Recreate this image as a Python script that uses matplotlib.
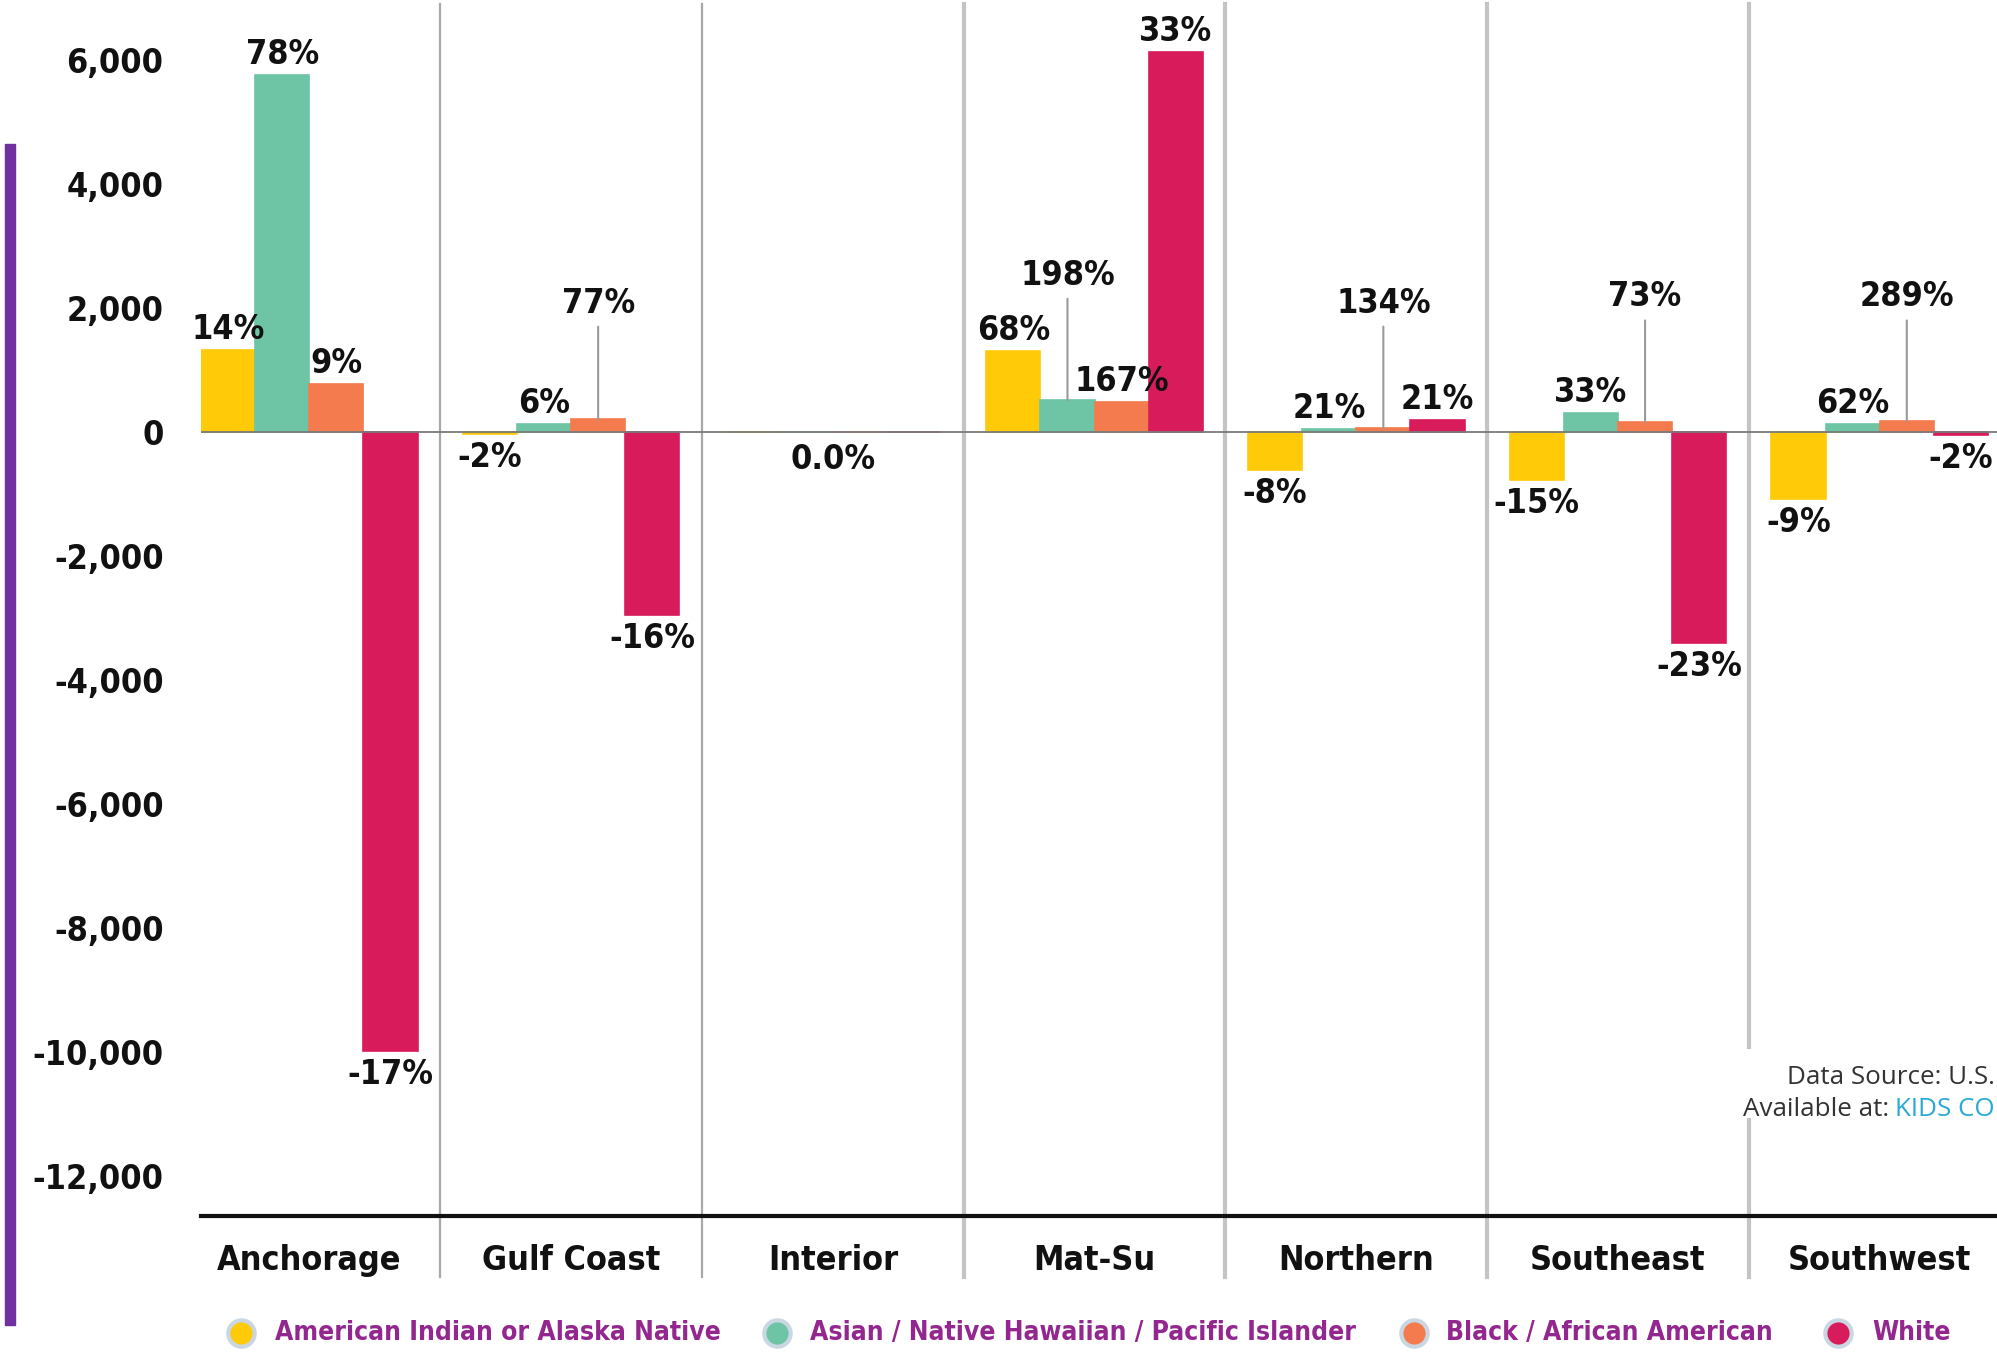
import matplotlib.pyplot as plt
from matplotlib.lines import Line2D
from matplotlib.patches import Rectangle
from matplotlib import font_manager as fm
import numpy as np

regions = ['Anchorage', 'Gulf Coast', 'Interior', 'Mat-Su', 'Northern', 'Southeast', 'Southwest']
series = ['American Indian or Alaska Native', 'Asian / Native Hawaiian / Pacific Islander',
          'Black / African American', 'White']
ai_an = [1320, -30, 0, 1305, -618, -768, -1074]
asian = [5755, 124, 0, 516, 55, 306, 134]
black = [769, 205, 0, 489, 60, 161, 177]
white = [-9980, -2950, 0, 6125, 189, -3400, -42]
pct_ai_an = ['14%', '-2%', '', '68%', '-8%', '-15%', '-9%']
pct_asian = ['78%', '6%', '', '198%', '21%', '33%', '62%']
pct_black = ['9%', '77%', '', '167%', '134%', '73%', '289%']
pct_white = ['-17%', '-16%', '', '33%', '21%', '-23%', '-2%']
interior_label = '0.0%'
yticks = [6000, 4000, 2000, 0, -2000, -4000, -6000, -8000, -10000, -12000]

colors = ['#ffca08', '#6ec5a5', '#f47b4d', '#d81c5b']
values = [ai_an, asian, black, white]
pcts = [pct_ai_an, pct_asian, pct_black, pct_white]
# labels that sit higher with a leader line: (series, region) -> label centre y
leaders = {(1, 3): 2530, (2, 1): 2080, (2, 4): 2080, (2, 5): 2180, (2, 6): 2180}

plt.rcParams['font.family'] = ['DejaVu Sans']
plt.rcParams['font.stretch'] = 'condensed'
plt.rcParams['font.weight'] = 'bold'
cond = 'Condensed' in fm.findfont(fm.FontProperties(family='DejaVu Sans', stretch='condensed',
                                                    weight='bold'))
fs = 24.5 if cond else 20
lfs = 19 if cond else 15

fig = plt.figure(figsize=(19.97, 13.54), dpi=100)
ax = fig.add_axes([0.1007, 0.102, 0.8993, 0.898])

x = np.arange(len(regions))
w = 0.2068
for i in range(4):
    xs = x + (i - 1.5) * w
    ax.bar(xs, values[i], w, color=colors[i], edgecolor=colors[i], linewidth=1.2, zorder=3)
    for j in range(len(regions)):
        lab = pcts[i][j]
        if not lab:
            continue
        v = values[i][j]
        if (i, j) in leaders:
            ax.annotate(lab, xy=(xs[j], v), xytext=(xs[j], leaders[(i, j)]),
                        ha='center', va='center', fontsize=fs, color='#111111',
                        arrowprops=dict(arrowstyle='-', color='#9a9a9a', lw=1.5,
                                        shrinkA=3, shrinkB=0), zorder=5)
        elif v >= 0:
            ax.annotate(lab, xy=(xs[j], v), xytext=(0, 3), textcoords='offset points',
                        ha='center', va='bottom', fontsize=fs, color='#111111', zorder=5)
        else:
            ax.annotate(lab, xy=(xs[j], v), xytext=(0, -5), textcoords='offset points',
                        ha='center', va='top', fontsize=fs, color='#111111', zorder=5)

ax.annotate(interior_label, xy=(2, 0), xytext=(0, -8), textcoords='offset points',
            ha='center', va='top', fontsize=fs, color='#111111')

ax.axhline(0, color='#7a7a7a', lw=1.3, zorder=4)

# region separators
for k in range(len(regions) - 1):
    if k < 2:
        c, lw = '#a8a8a8', 1.6
    else:
        c, lw = '#c4c4c4', 3
    if k == 5:
        segs = [(0.139, 0.997), (-0.05, 0.0785)]
    else:
        segs = [(-0.05, 0.997)]
    for y0, y1 in segs:
        ax.plot([k + 0.5, k + 0.5], [y0, y1], color=c, lw=lw,
                transform=ax.get_xaxis_transform(), clip_on=False, zorder=2)

ax.set_xlim(-0.4136, 6.448)
ax.set_ylim(-12640, 6970)
ax.set_xticks(x)
ax.set_xticklabels(regions, fontsize=fs, color='#111111')
ax.set_yticks(yticks)
ax.set_yticklabels([f'{t:,}' for t in yticks], fontsize=fs, color='#111111')
ax.tick_params(axis='x', length=0, pad=20)
ax.tick_params(axis='y', length=0, pad=27)
for s in ['top', 'right', 'left']:
    ax.spines[s].set_visible(False)
ax.spines['bottom'].set_color('#111111')
ax.spines['bottom'].set_linewidth(3)
ax.spines['bottom'].set_zorder(6)

# purple side bar
fig.add_artist(Rectangle((5 / 1997, 1 - 1325 / 1354), 10 / 1997, 1181 / 1354,
                         transform=fig.transFigure, color='#7030a0'))

# legend
leg_marker_x = [241, 777, 1414, 1838]
leg_text_x = [275, 810, 1446, 1872]
ly = 1 - 1333 / 1354
for i in range(4):
    fig.add_artist(Line2D([leg_marker_x[i] / 1997], [ly], marker='o', markersize=19,
                          markerfacecolor=colors[i], markeredgecolor='#c9d7e2',
                          markeredgewidth=3, transform=fig.transFigure))
    fig.text(leg_text_x[i] / 1997, ly, series[i], ha='left', va='center',
             fontsize=lfs, color='#93278f')

# source note
src = dict(fontsize=18.7, family=['Open Sans', 'DejaVu Sans'], stretch='normal',
           weight='normal', va='center')
fig.text(0.999, 1 - 1077 / 1354, 'Data Source: U.S.', ha='right', color='#333333', **src)
fig.text(0.999, 1 - 1110 / 1354, 'KIDS CO', ha='right', color='#29a9d6', **src)
fig.text(1889 / 1997, 1 - 1110 / 1354, 'Available at:', ha='right', color='#333333', **src)

fig.savefig('out.png', dpi=100)
